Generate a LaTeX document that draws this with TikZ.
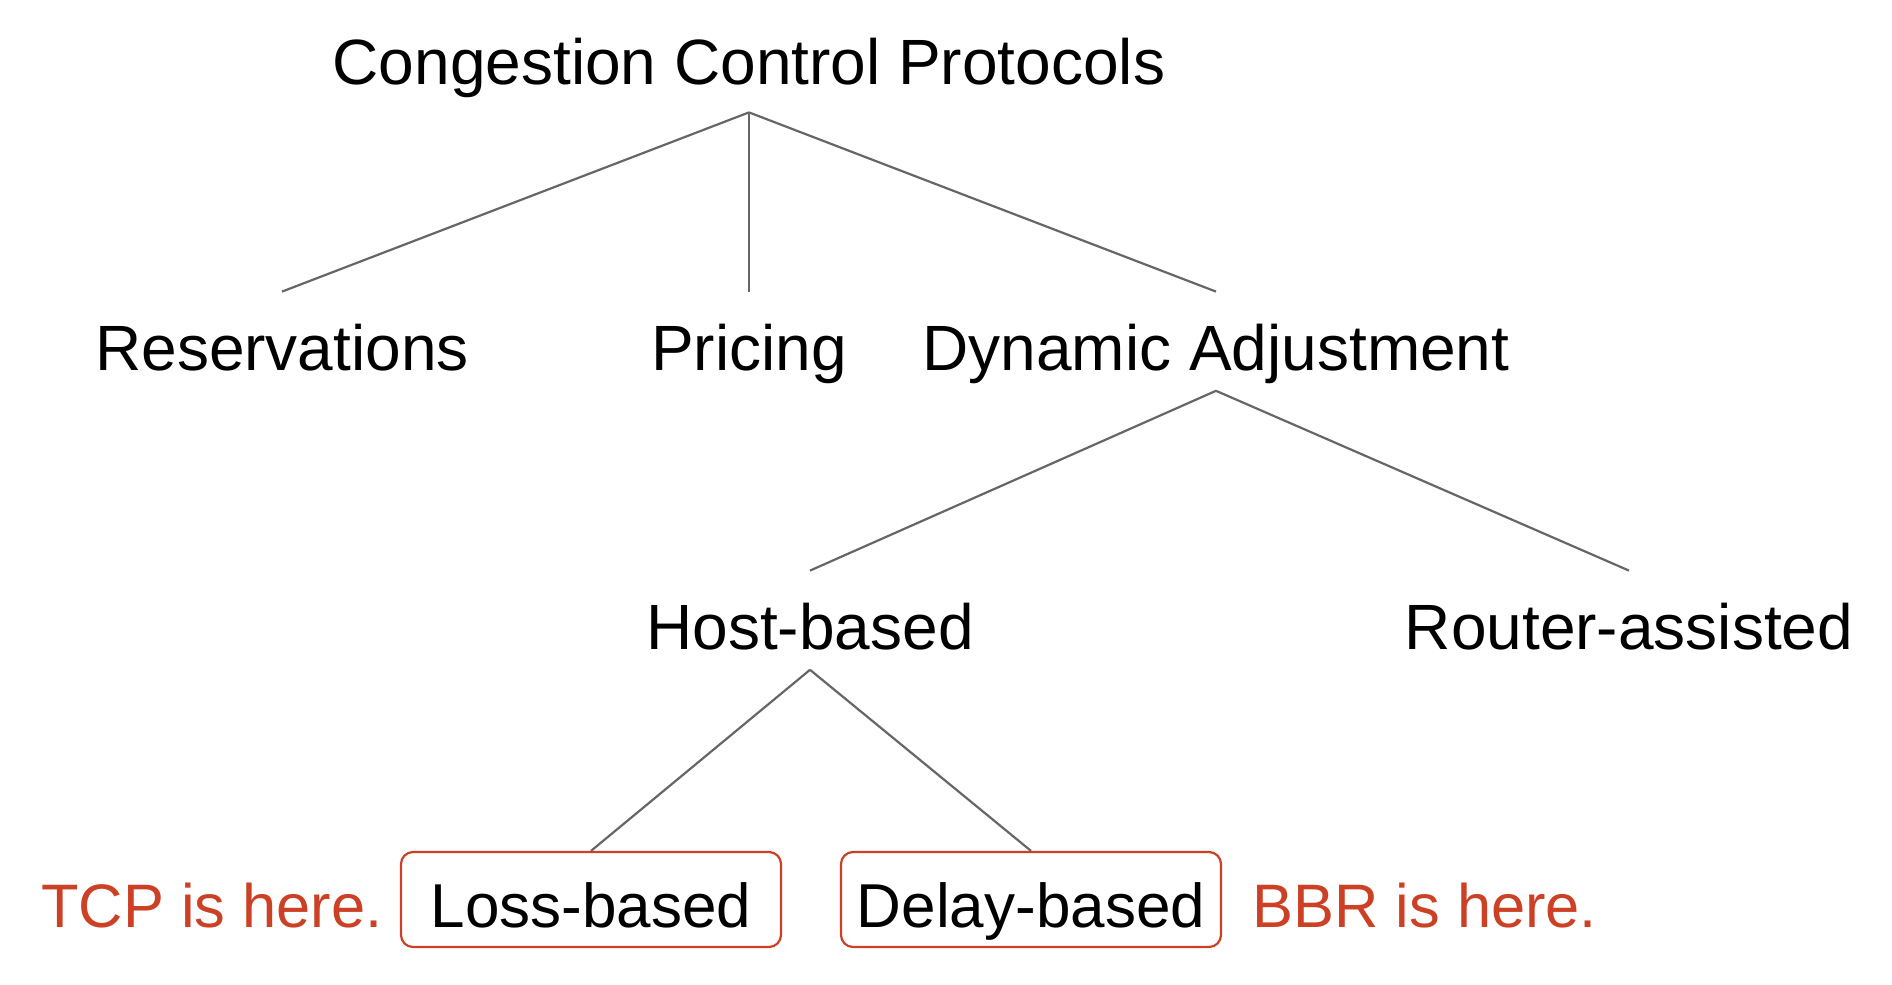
\documentclass[tikz,border=0pt]{standalone}
\usepackage{fontspec}
\setmainfont{Liberation Sans}
\usepackage{tikz}
\usetikzlibrary{positioning}
\usepackage{xcolor}
\definecolor{edgegray}{HTML}{666666}
\definecolor{notered}{HTML}{CC4125}
\tikzset{
  lvl/.style   ={inner xsep=0pt, inner ysep=2pt, text height=37pt,
                 text depth=8.2pt, anchor=base},
  root/.style  ={inner xsep=0pt, inner ysep=2pt, text height=24pt,
                 text depth=12pt, anchor=base},
  leafbox/.style={draw=notered, rounded corners=6pt, line width=1.1pt,
                 inner xsep=0pt, inner ysep=0pt, minimum width=190pt,
                 text height=37.5pt, text depth=10pt, anchor=base,
                 font=\fontsize{31pt}{37pt}\selectfont},
  note/.style  ={text=notered, inner sep=0pt,
                 font=\fontsize{30.7pt}{37pt}\selectfont},
  edge/.style  ={draw=edgegray, line width=1.1pt},
}
\begin{document}
\begin{tikzpicture}[x=0.5pt, y=-0.5pt,
  every node/.style={font=\fontsize{32pt}{38pt}\selectfont}]
\useasboundingbox (0,0) rectangle (1892,985);
\node[root] (ccp) at (749,84) {Congestion Control Protocols};
\node[lvl] (res) at (282,370)  {Reservations};
\node[lvl] (pri) at (749,370)  {Pricing};
\node[lvl] (dyn) at (1216,370) {Dynamic Adjustment};
\node[lvl] (host) at (810,649)  {Host-based};
\node[lvl] (rout) at (1629,649) {Router-assisted};
\node[leafbox] (loss)  at (591,927)  {Loss-based};
\node[leafbox] (delay) at (1031,927) {Delay-based};
\node[note, anchor=base east] (tcp) at (383,927)  {TCP is here.};
\node[note, anchor=base west] (bbr) at (1252,927) {BBR is here.};
\draw[edge] (ccp.south) -- (res.north);
\draw[edge] (ccp.south) -- (pri.north);
\draw[edge] (ccp.south) -- (dyn.north);
\draw[edge] (dyn.south) -- (host.north);
\draw[edge] (dyn.south) -- (rout.north);
\draw[edge] (host.south) -- (loss.north);
\draw[edge] (host.south) -- (delay.north);
\end{tikzpicture}
\end{document}
